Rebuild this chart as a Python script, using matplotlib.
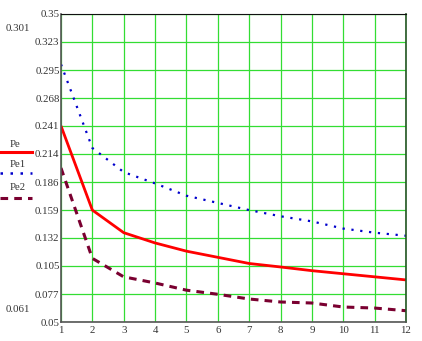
import matplotlib

matplotlib.use("Agg")

import matplotlib.pyplot as plt
from matplotlib.lines import Line2D

x = [1, 2, 3, 4, 5, 6, 7, 8, 9, 10, 11, 12]
pe = [0.241, 0.159, 0.137, 0.127, 0.119, 0.113, 0.107, 0.1036, 0.100, 0.097, 0.094, 0.091]
pe1 = [0.301, 0.2195, 0.196, 0.185, 0.173, 0.166, 0.159, 0.153, 0.148, 0.141, 0.137, 0.134]
pe2 = [0.200, 0.112, 0.094, 0.088, 0.081, 0.077, 0.0724, 0.0695, 0.0685, 0.0646, 0.0636, 0.061]
y_ticks = [0.05, 0.077, 0.105, 0.132, 0.159, 0.186, 0.214, 0.241, 0.268, 0.295, 0.323, 0.35]
y_tick_labels = ["0.05", "0.077", "0.105", "0.132", "0.159", "0.186", "0.214",
                 "0.241", "0.268", "0.295", "0.323", "0.35"]
series_names = ["Pe", "Pe1", "Pe2"]
marker_labels = ["0.301", "0.061"]

plt.rcParams["font.family"] = ["Liberation Serif", "DejaVu Serif"]
plt.rcParams["font.size"] = 7.8

fig = plt.figure(figsize=(4.22, 3.41), dpi=100)
ax = fig.add_axes([0.1445, 0.0557, 0.8175, 0.9033])

ax.plot(x, pe, color="#ff0000", linewidth=2.0, solid_capstyle="butt")
ax.plot(x, pe1, color="#0000cc", linewidth=1.6, linestyle=(0, (1, 3)))
ax.plot(x, pe2, color="#7a0030", linewidth=2.2, linestyle=(0, (2.5, 2)))

ax.set_xlim(1, 12)
ax.set_ylim(0.05, 0.35)
ax.set_xticks(x)
ax.set_yticks(y_ticks)
ax.set_yticklabels(y_tick_labels)
ax.tick_params(axis="y", length=0, pad=1, labelsize=7.8, colors="#333333")
ax.tick_params(axis="x", length=0, pad=3, labelsize=7.8, colors="#333333")
ax.grid(True, color="#33dd33", linewidth=0.9)
ax.set_axisbelow(True)
for side in ["left", "bottom"]:
    ax.spines[side].set_color("#555555")
    ax.spines[side].set_linewidth(1.2)
ax.spines["top"].set_color("#111111")
ax.spines["right"].set_color("#225522")
ax.spines["right"].set_linewidth(1.2)

# max / min markers at the left
fig.text(0.014, 0.908, marker_labels[0], fontsize=7.8, color="#333333")
fig.text(0.014, 0.086, marker_labels[1], fontsize=7.8, color="#333333")

# legend on the left side
styles = [dict(color="#ff0000", linewidth=2.2),
          dict(color="#0000cc", linewidth=1.8, linestyle=(0, (1, 3))),
          dict(color="#7a0030", linewidth=2.2, linestyle=(0, (2.5, 2)))]
label_y = [0.570, 0.510, 0.443]
line_y = [0.553, 0.492, 0.420]
for name, st, ly, lny in zip(series_names, styles, label_y, line_y):
    fig.text(0.024, ly, name, fontsize=7.8, color="#333333")
    fig.add_artist(Line2D([0.0, 0.075], [lny, lny], transform=fig.transFigure, **st))

fig.savefig("out.png", dpi=100)
